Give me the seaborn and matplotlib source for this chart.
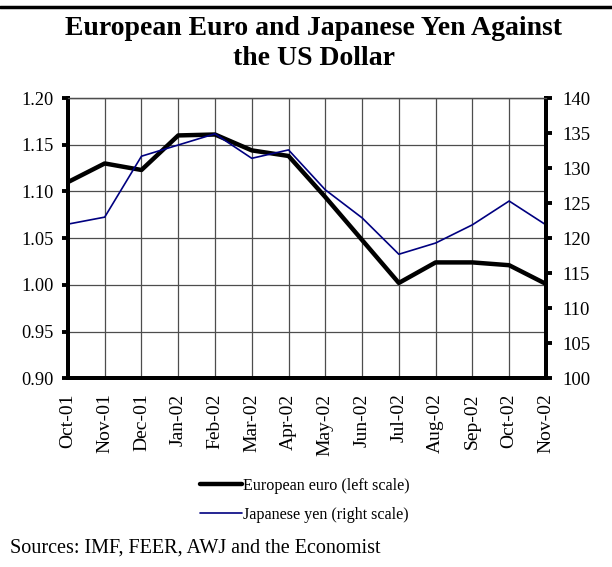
import pandas as pd
import matplotlib.pyplot as plt
import seaborn as sns
from matplotlib.lines import Line2D

# data
months = ['Oct-01', 'Nov-01', 'Dec-01', 'Jan-02', 'Feb-02', 'Mar-02', 'Apr-02',
          'May-02', 'Jun-02', 'Jul-02', 'Aug-02', 'Sep-02', 'Oct-02', 'Nov-02']
euro = [1.110, 1.130, 1.123, 1.160, 1.161, 1.144, 1.138,
        1.094, 1.048, 1.002, 1.024, 1.024, 1.021, 1.001]
yen = [122.0, 123.0, 131.7, 133.3, 134.9, 131.4, 132.6,
       126.9, 122.9, 117.7, 119.3, 121.9, 125.3, 121.9]
left_ticks = [0.90, 0.95, 1.00, 1.05, 1.10, 1.15, 1.20]
right_ticks = [100, 105, 110, 115, 120, 125, 130, 135, 140]

df = pd.DataFrame({'pos': range(len(months)), 'month': months,
                   'euro': euro, 'yen': yen})

sns.set_style('white')
plt.rcParams['font.family'] = ['Liberation Serif', 'DejaVu Serif']
plt.rcParams['text.color'] = 'black'

fig = plt.figure(figsize=(6.12, 5.67), dpi=100)
ax = fig.add_axes([0.111, 0.333, 0.781, 0.494])
ax2 = ax.twinx()

sns.lineplot(data=df, x='pos', y='euro', ax=ax, color='black', lw=3.2,
             legend=False)
sns.lineplot(data=df, x='pos', y='yen', ax=ax2, color='#000080', lw=1.2,
             legend=False)

ax.set_xlim(0, len(months) - 1)
ax.set_ylim(0.90, 1.20)
ax2.set_ylim(100, 140)
ax.set_xticks(df['pos'])
ax.set_xticklabels(months, rotation=90, fontsize=14)
ax.set_yticks(left_ticks)
ax.set_yticklabels([f'{t:.2f}' for t in left_ticks], fontsize=13.2)
ax2.set_yticks(right_ticks)
ax2.set_yticklabels([str(t) for t in right_ticks], fontsize=13.5)
ax.set_xlabel('')
ax.set_ylabel('')
ax2.set_ylabel('')

ax.grid(True, color='#4d4d4d', lw=0.9)
ax.set_axisbelow(True)

for a in (ax, ax2):
    for s in ('left', 'right', 'bottom'):
        a.spines[s].set_linewidth(2.8)
        a.spines[s].set_color('black')
    a.spines['top'].set_linewidth(0.9)
    a.spines['top'].set_color('#4d4d4d')
ax.tick_params(axis='x', direction='out', length=4, width=2.8, colors='black', pad=7)
ax.tick_params(axis='y', direction='out', length=4, width=2.8, colors='black', pad=6)
ax2.tick_params(axis='y', direction='out', length=4, width=2.8, colors='black', pad=8)

fig.text(0.513, 0.950, 'European Euro and Japanese Yen Against', ha='center',
         va='center', fontsize=20, fontweight='bold')
fig.text(0.513, 0.897, 'the US Dollar', ha='center', va='center',
         fontsize=20, fontweight='bold')

handles = [Line2D([], [], color='black', lw=3.2),
           Line2D([], [], color='#000080', lw=1.2)]
fig.legend(handles, ['European euro (left scale)', 'Japanese yen (right scale)'],
           loc='center', bbox_to_anchor=(0.498, 0.118), frameon=False, fontsize=11.6,
           handlelength=2.65, handletextpad=0.05, labelspacing=0.8)

fig.text(0.016, 0.034, 'Sources: IMF, FEER, AWJ and the Economist', fontsize=14.5,
         va='center')
fig.add_artist(Line2D([0, 1], [0.988, 0.988], color='black', lw=2.5,
                      transform=fig.transFigure))

fig.savefig('out.png', dpi=100)
